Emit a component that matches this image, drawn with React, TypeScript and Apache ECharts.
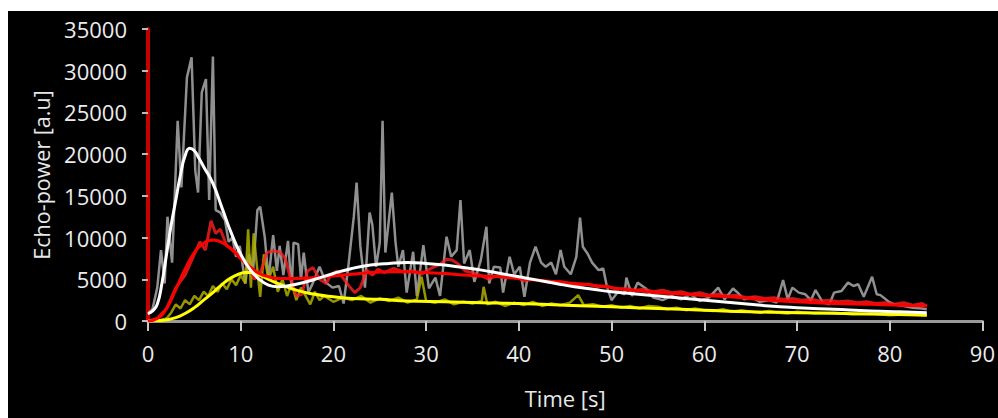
import React, { useEffect, useRef } from "react";
import * as echarts from "echarts";

// Tick settings
const xTicks = { min: 0, max: 90, interval: 10 };
const yTicks = { min: 0, max: 35000, interval: 5000 };

// Raw echo-power (gray): [time s, value]
const grayRaw: number[][] = [
  [0, 800], [0.5, 1500], [1.0, 4000], [1.4, 8500], [1.8, 4500], [2.1, 12500], [2.6, 7000], [3.2, 24000],
  [3.6, 16000], [4.2, 29200], [4.7, 31600], [5.1, 18000], [5.4, 15400], [5.8, 27400], [6.25, 29000],
  [6.6, 14500], [7.0, 31700], [7.3, 13300], [7.8, 13000], [8.3, 12100], [8.7, 9500], [9.1, 10000],
  [9.5, 7700], [9.9, 9000], [10.5, 4500], [10.9, 8000], [11.3, 5500], [11.8, 13300], [12.1, 13700],
  [12.6, 10000], [13.0, 5000], [13.5, 10300], [13.9, 6000], [14.2, 9000], [14.6, 5500], [15.1, 9600],
  [15.5, 3700], [15.7, 9400], [16.2, 9200], [16.5, 5000], [16.8, 8200], [17.3, 3400], [17.8, 4600],
  [18.5, 6500], [19.2, 4600], [19.9, 4000], [20.6, 4200], [21.1, 2100], [21.6, 6500], [22.2, 12500],
  [22.5, 16600], [22.9, 9000], [23.4, 4000], [23.9, 13000], [24.2, 11500], [24.6, 6500], [25.0, 9400],
  [25.3, 24000], [25.6, 8200], [26.3, 15400], [26.7, 9400], [27.0, 6500], [27.5, 8500], [27.9, 3400],
  [28.6, 8300], [29.0, 3000], [29.7, 9100], [30.3, 3900], [31.0, 5200], [31.5, 3000], [32.2, 10100],
  [32.7, 7700], [33.3, 8500], [33.7, 14500], [34.1, 6900], [34.7, 8500], [35.2, 4700], [35.9, 7300],
  [36.5, 11300], [36.8, 4500], [37.3, 6500], [38.0, 6400], [38.3, 3400], [39.0, 7700], [39.5, 5600],
  [40.1, 6500], [40.6, 2900], [41.2, 7000], [41.8, 8900], [42.4, 7000], [42.9, 6500], [43.5, 7000],
  [44.0, 5600], [44.5, 8500], [44.9, 6500], [45.6, 5600], [46.2, 7700], [46.6, 12400], [46.9, 8900],
  [47.4, 8100], [47.9, 7000], [48.6, 6100], [49.1, 6300], [49.5, 4100], [50.0, 2500], [50.7, 3500],
  [51.4, 3200], [51.6, 5200], [52.2, 3000], [52.8, 4600], [53.7, 3900], [54.5, 2800], [55.5, 2500],
  [56.5, 3000], [57.5, 2600], [58.5, 3200], [59.5, 2400], [60.5, 2800], [61.5, 4000], [62.2, 2600],
  [63.1, 3900], [63.6, 3400], [64.3, 2600], [65.2, 2800], [66.0, 2300], [67.0, 2500], [67.8, 2200],
  [68.5, 4900], [69.0, 2600], [69.5, 4000], [70.2, 3400], [70.9, 3200], [71.5, 2500], [72.0, 3700],
  [72.8, 2200], [73.5, 2000], [74.0, 3400], [74.8, 3600], [75.5, 4600], [76.1, 4200], [76.6, 4400],
  [77.2, 2900], [78.1, 5300], [78.6, 3200], [79.0, 3100], [79.9, 2300], [80.5, 2000], [81.5, 1800],
  [82.5, 1600], [83.5, 1500], [84.0, 1400],
];

// Raw red channel: [time s, value]
const redRaw: number[][] = [
  [0, 0], [1, 300], [2, 1500], [3, 4000], [4, 5500], [5, 8000], [5.6, 9500], [6.2, 8500], [6.8, 12000],
  [7.3, 10500], [7.8, 11000], [8.5, 9000], [9.2, 8500], [10, 7500], [10.8, 6500], [11.5, 5000],
  [12.2, 6000], [12.8, 8200], [13.5, 8400], [14.2, 8300], [14.8, 7500], [15.4, 5000], [16.0, 3000],
  [16.6, 3200], [17.2, 6000], [17.8, 6400], [18.5, 5000], [19.2, 4500], [19.8, 5600], [20.4, 6000],
  [21.0, 5200], [21.6, 4300], [22.3, 3400], [22.9, 4000], [23.6, 6100], [24.2, 5500], [24.8, 6200],
  [25.5, 5800], [26.5, 6300], [27.5, 5900], [28.5, 6000], [29.5, 5600], [30.5, 6300], [31.5, 6800],
  [32.2, 7400], [32.8, 7300], [33.5, 6800], [34.2, 6000], [35, 5800], [36, 5400], [36.8, 5000],
  [37.5, 5400], [38.5, 5200], [39.5, 5500], [40.5, 4800], [41.5, 5000], [42.5, 4800], [43.5, 4600],
  [44.5, 4700], [45.5, 4500], [46.5, 4300], [47.5, 4400], [48.5, 4100], [49.5, 4200], [50.5, 3800],
  [51.5, 3900], [52.5, 3700], [53.5, 3800], [54.5, 3500], [55.5, 3700], [56.5, 3400], [57.5, 3500],
  [58.5, 3200], [59.5, 3400], [60.5, 3100], [61.5, 3200], [62.5, 3000], [63.5, 3100], [64.5, 2800],
  [65.5, 2900], [66.5, 2700], [67.5, 2800], [68.5, 2600], [69.5, 2700], [70.5, 2500], [71.5, 2600],
  [72.5, 2400], [73.5, 2500], [74.5, 2300], [75.5, 2400], [76.5, 2200], [77.5, 2300], [78.5, 2100],
  [79.5, 2200], [80.5, 2000], [81.5, 2200], [82.5, 1900], [83.5, 2100], [84, 1800],
];

// Raw yellow channel: [time s, value]
const yellowRaw: number[][] = [
  [0, 0], [1, 0], [2, 300], [2.5, 1000], [3, 2000], [3.5, 1500], [4, 2500], [4.5, 2000], [5, 3000],
  [5.5, 2500], [6, 3500], [6.5, 3000], [7, 4200], [7.5, 3500], [8, 4500], [8.5, 3800], [9, 5000],
  [9.5, 4300], [10, 5500], [10.5, 4500], [10.8, 11000], [11.1, 4000], [11.4, 10500], [11.8, 6000],
  [12.1, 2900], [12.5, 8000], [13, 5000], [13.5, 6500], [14, 3500], [14.5, 5000], [15, 3000],
  [15.5, 4500], [16, 2500], [16.5, 4000], [17, 3000], [17.5, 2000], [18, 3500], [18.5, 2500], [19, 3000],
  [20, 2300], [21, 2800], [22, 2500], [23, 3000], [24, 2200], [25, 2700], [26, 2400], [27, 2800],
  [28, 2200], [29, 2600], [29.5, 5300], [30, 2400], [31, 2200], [32, 2600], [33, 2000], [34, 2300],
  [35, 2100], [36, 2400], [36.2, 4100], [36.6, 2000], [37.5, 2300], [38.5, 1800], [39.5, 2200],
  [40.5, 1900], [41.5, 2300], [42.5, 1800], [43.5, 2100], [44.5, 1900], [45.5, 2200], [46.4, 3100],
  [47, 1900], [48, 2000], [49, 1700], [50, 1900], [51, 1600], [52, 1800], [53, 1500], [54, 1800],
  [55, 1700], [56, 1400], [57, 1600], [58, 1300], [59, 1500], [60, 1300], [61, 1200], [62, 1400],
  [63, 1100], [64, 1300], [65, 1100], [66, 1000], [67, 1200], [68, 1000], [69, 900], [70, 1100],
  [72, 900], [74, 1000], [76, 800], [78, 900], [80, 700], [82, 800], [84, 700],
];

// Fitted curves: [time s, value]
const whiteFit: number[][] = [
  [0, 900], [0.5, 1200], [1, 2000], [1.5, 4500], [2, 8000], [2.5, 11500], [3, 14500], [3.5, 17500],
  [4, 19800], [4.5, 20700], [5, 20400], [5.5, 19500], [6, 18500], [7, 16500], [8, 13500], [9, 10500],
  [10, 8000], [11, 6200], [12, 5000], [13, 4300], [14, 4100], [15, 4200], [16, 4400], [18, 5000],
  [20, 5700], [22, 6300], [24, 6700], [26, 6900], [28, 7000], [30, 6900], [32, 6700], [34, 6400],
  [36, 6100], [38, 5700], [40, 5300], [42, 4900], [44, 4500], [46, 4100], [48, 3800], [50, 3500],
  [52, 3300], [55, 3000], [58, 2700], [61, 2400], [64, 2100], [67, 1800], [70, 1600], [74, 1400],
  [78, 1200], [81, 1100], [84, 1000],
];

const redFit: number[][] = [
  [0, 0], [1, 300], [2, 1500], [3, 3800], [4, 6200], [5, 8200], [6, 9300], [7, 9700], [8, 9400],
  [9, 8600], [10, 7500], [11, 6500], [12, 5700], [13, 5300], [14, 5100], [16, 5100], [18, 5200],
  [20, 5400], [22, 5600], [24, 5800], [26, 5900], [28, 5900], [30, 5800], [32, 5700], [34, 5500],
  [36, 5400], [38, 5300], [40, 5100], [42, 4900], [44, 4700], [46, 4500], [48, 4300], [50, 4000],
  [52, 3700], [55, 3400], [58, 3200], [61, 3000], [64, 2800], [67, 2500], [70, 2300], [74, 2100],
  [78, 2000], [81, 1900], [84, 1800],
];

const yellowFit: number[][] = [
  [0, 0], [1, 50], [2, 150], [3, 400], [4, 900], [5, 1600], [6, 2500], [7, 3400], [8, 4400], [9, 5200],
  [10, 5700], [10.5, 5800], [11, 5800], [12, 5500], [13, 5000], [14, 4500], [16, 3700], [18, 3200],
  [20, 2900], [22, 2700], [25, 2600], [28, 2400], [32, 2300], [36, 2200], [40, 2100], [45, 1900],
  [50, 1700], [55, 1500], [60, 1300], [65, 1100], [70, 1000], [75, 900], [80, 800], [84, 700],
];

const labelFont = "'Open Sans', 'DejaVu Sans', sans-serif";

export default function App() {
  const ref = useRef<HTMLDivElement>(null);
  useEffect(() => {
    document.body.style.overflow = "hidden";
    const chart = echarts.init(ref.current!, null, { renderer: "svg" });
    const line = (data: number[][], color: string, width: number, smooth: boolean, z: number) => ({
      type: "line",
      data,
      showSymbol: false,
      symbol: "none",
      smooth,
      z,
      lineStyle: { color, width },
      itemStyle: { color },
    });
    chart.setOption({
      animation: false,
      backgroundColor: "#000000",
      grid: { left: 140, right: 15, top: 18, bottom: 97 },
      xAxis: {
        type: "value",
        min: xTicks.min,
        max: xTicks.max,
        interval: xTicks.interval,
        name: "Time [s]",
        nameLocation: "middle",
        nameGap: 66,
        nameTextStyle: { color: "#e8e8e8", fontSize: 22, fontFamily: labelFont },
        axisLine: { show: true, lineStyle: { color: "#9a9a9a", width: 3 } },
        axisTick: { show: true, length: 10, lineStyle: { color: "#c8c8c8", width: 2 } },
        axisLabel: { color: "#ececec", fontSize: 22, margin: 21, fontFamily: labelFont },
        splitLine: { show: false },
      },
      yAxis: {
        type: "value",
        min: yTicks.min,
        max: yTicks.max,
        interval: yTicks.interval,
        name: "Echo-power [a.u]",
        nameLocation: "middle",
        nameGap: 96,
        nameTextStyle: { color: "#e8e8e8", fontSize: 21.5, fontFamily: labelFont },
        axisLine: { show: true, lineStyle: { color: "#c80000", width: 4 } },
        axisTick: { show: true, length: 6, lineStyle: { color: "#bbbbbb", width: 2 } },
        axisLabel: {
          color: "#ececec",
          fontSize: 22,
          margin: 21,
          fontFamily: labelFont,
          formatter: (v: number) => String(v),
        },
        splitLine: { show: false },
      },
      series: [
        line(grayRaw, "#909090", 2.5, false, 1),
        line(yellowRaw, "rgba(175,175,0,0.85)", 2.5, false, 2),
        line(redRaw, "rgba(255,30,30,0.8)", 3, false, 3),
        line(yellowFit, "#ffff00", 3, true, 4),
        line(redFit, "#ff0000", 3, true, 5),
        line(whiteFit, "#ffffff", 3, true, 6),
      ],
    });
    return () => chart.dispose();
  }, []);
  return (
    <div
      ref={ref}
      style={{ position: "absolute", left: 8, top: 11, width: 990, height: 407, background: "#000" }}
    />
  );
}
